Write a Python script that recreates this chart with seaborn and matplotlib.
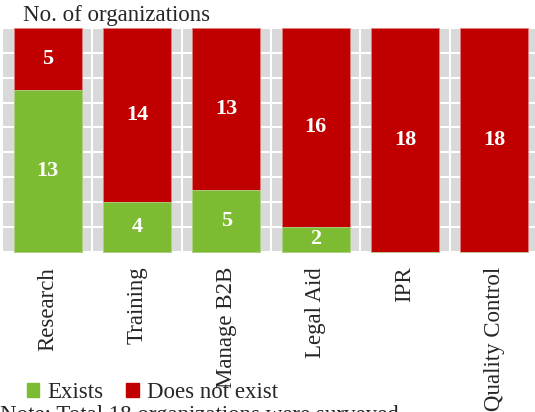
import matplotlib
matplotlib.use("Agg")
import matplotlib.pyplot as plt
import numpy as np
import seaborn as sns
from matplotlib.patches import Patch

# Data
categories = ["Research", "Training", "Manage B2B", "Legal Aid", "IPR", "Quality Control"]
exists = [13, 4, 5, 2, 0, 0]
not_exist = [5, 14, 13, 16, 18, 18]
totals = [e + n for e, n in zip(exists, not_exist)]

green = "#7cbb32"
red = "#c00000"
font = ["Liberation Serif", "DejaVu Serif"]

sns.set_style("white")
plt.rcParams["font.family"] = font

fig = plt.figure(figsize=(5.35, 4.12), dpi=100)
ax = fig.add_axes([0.0056, 0.386, 1.002, 0.546])
ax.set_facecolor("#d9d9d9")

# stacked bars: red total first, green part on top of it
sns.barplot(x=categories, y=totals, color=red, width=0.76, saturation=1,
            edgecolor="#e08080", linewidth=0.6, ax=ax)
sns.barplot(x=categories, y=exists, color=green, width=0.76, saturation=1,
            edgecolor="#b0d890", linewidth=0.6, ax=ax)

# labels in the segments
for i, (e, n) in enumerate(zip(exists, not_exist)):
    if e > 0:
        ax.text(i, e / 2, str(e), ha="center", va="center", color="white",
                fontsize=16, fontweight="bold")
    if n > 0:
        ax.text(i, e + n / 2, str(n), ha="center", va="center", color="white",
                fontsize=16, fontweight="bold")

ax.set_ylim(-0.1, 18)
ax.set_xlim(-0.5, len(categories) - 0.5)
ax.set_yticks(np.arange(0, 19, 2))
ax.set_yticklabels([])
ax.set_xticks(np.arange(len(categories)) + 0.5, minor=True)
ax.grid(True, which="major", axis="y", color="white", linewidth=1.5)
ax.grid(True, which="minor", axis="x", color="white", linewidth=1.5)
ax.set_axisbelow(True)
ax.tick_params(axis="both", which="both", length=0)
ax.set_xticks(np.arange(len(categories)))
ax.set_xticklabels(categories, rotation=90, fontsize=16.5)
ax.tick_params(axis="x", pad=10)
for s in ax.spines.values():
    s.set_visible(False)

fig.text(0.043, 0.963, "No. of organizations", fontsize=16.5, va="center", ha="left")

handles = [Patch(color=green, label="Exists"), Patch(color=red, label="Does not exist")]
fig.legend(handles=handles, loc="center left", bbox_to_anchor=(0.05, 0.048), ncol=2,
           frameon=False, fontsize=16.5, handlelength=0.55, handleheight=0.55,
           handletextpad=0.35, columnspacing=1.0, borderaxespad=0, borderpad=0)

fig.text(0.0, 0.017, "Note: Total 18 organizations were surveyed", fontsize=16.5,
         va="top", ha="left")

fig.savefig("out.png", dpi=100)
